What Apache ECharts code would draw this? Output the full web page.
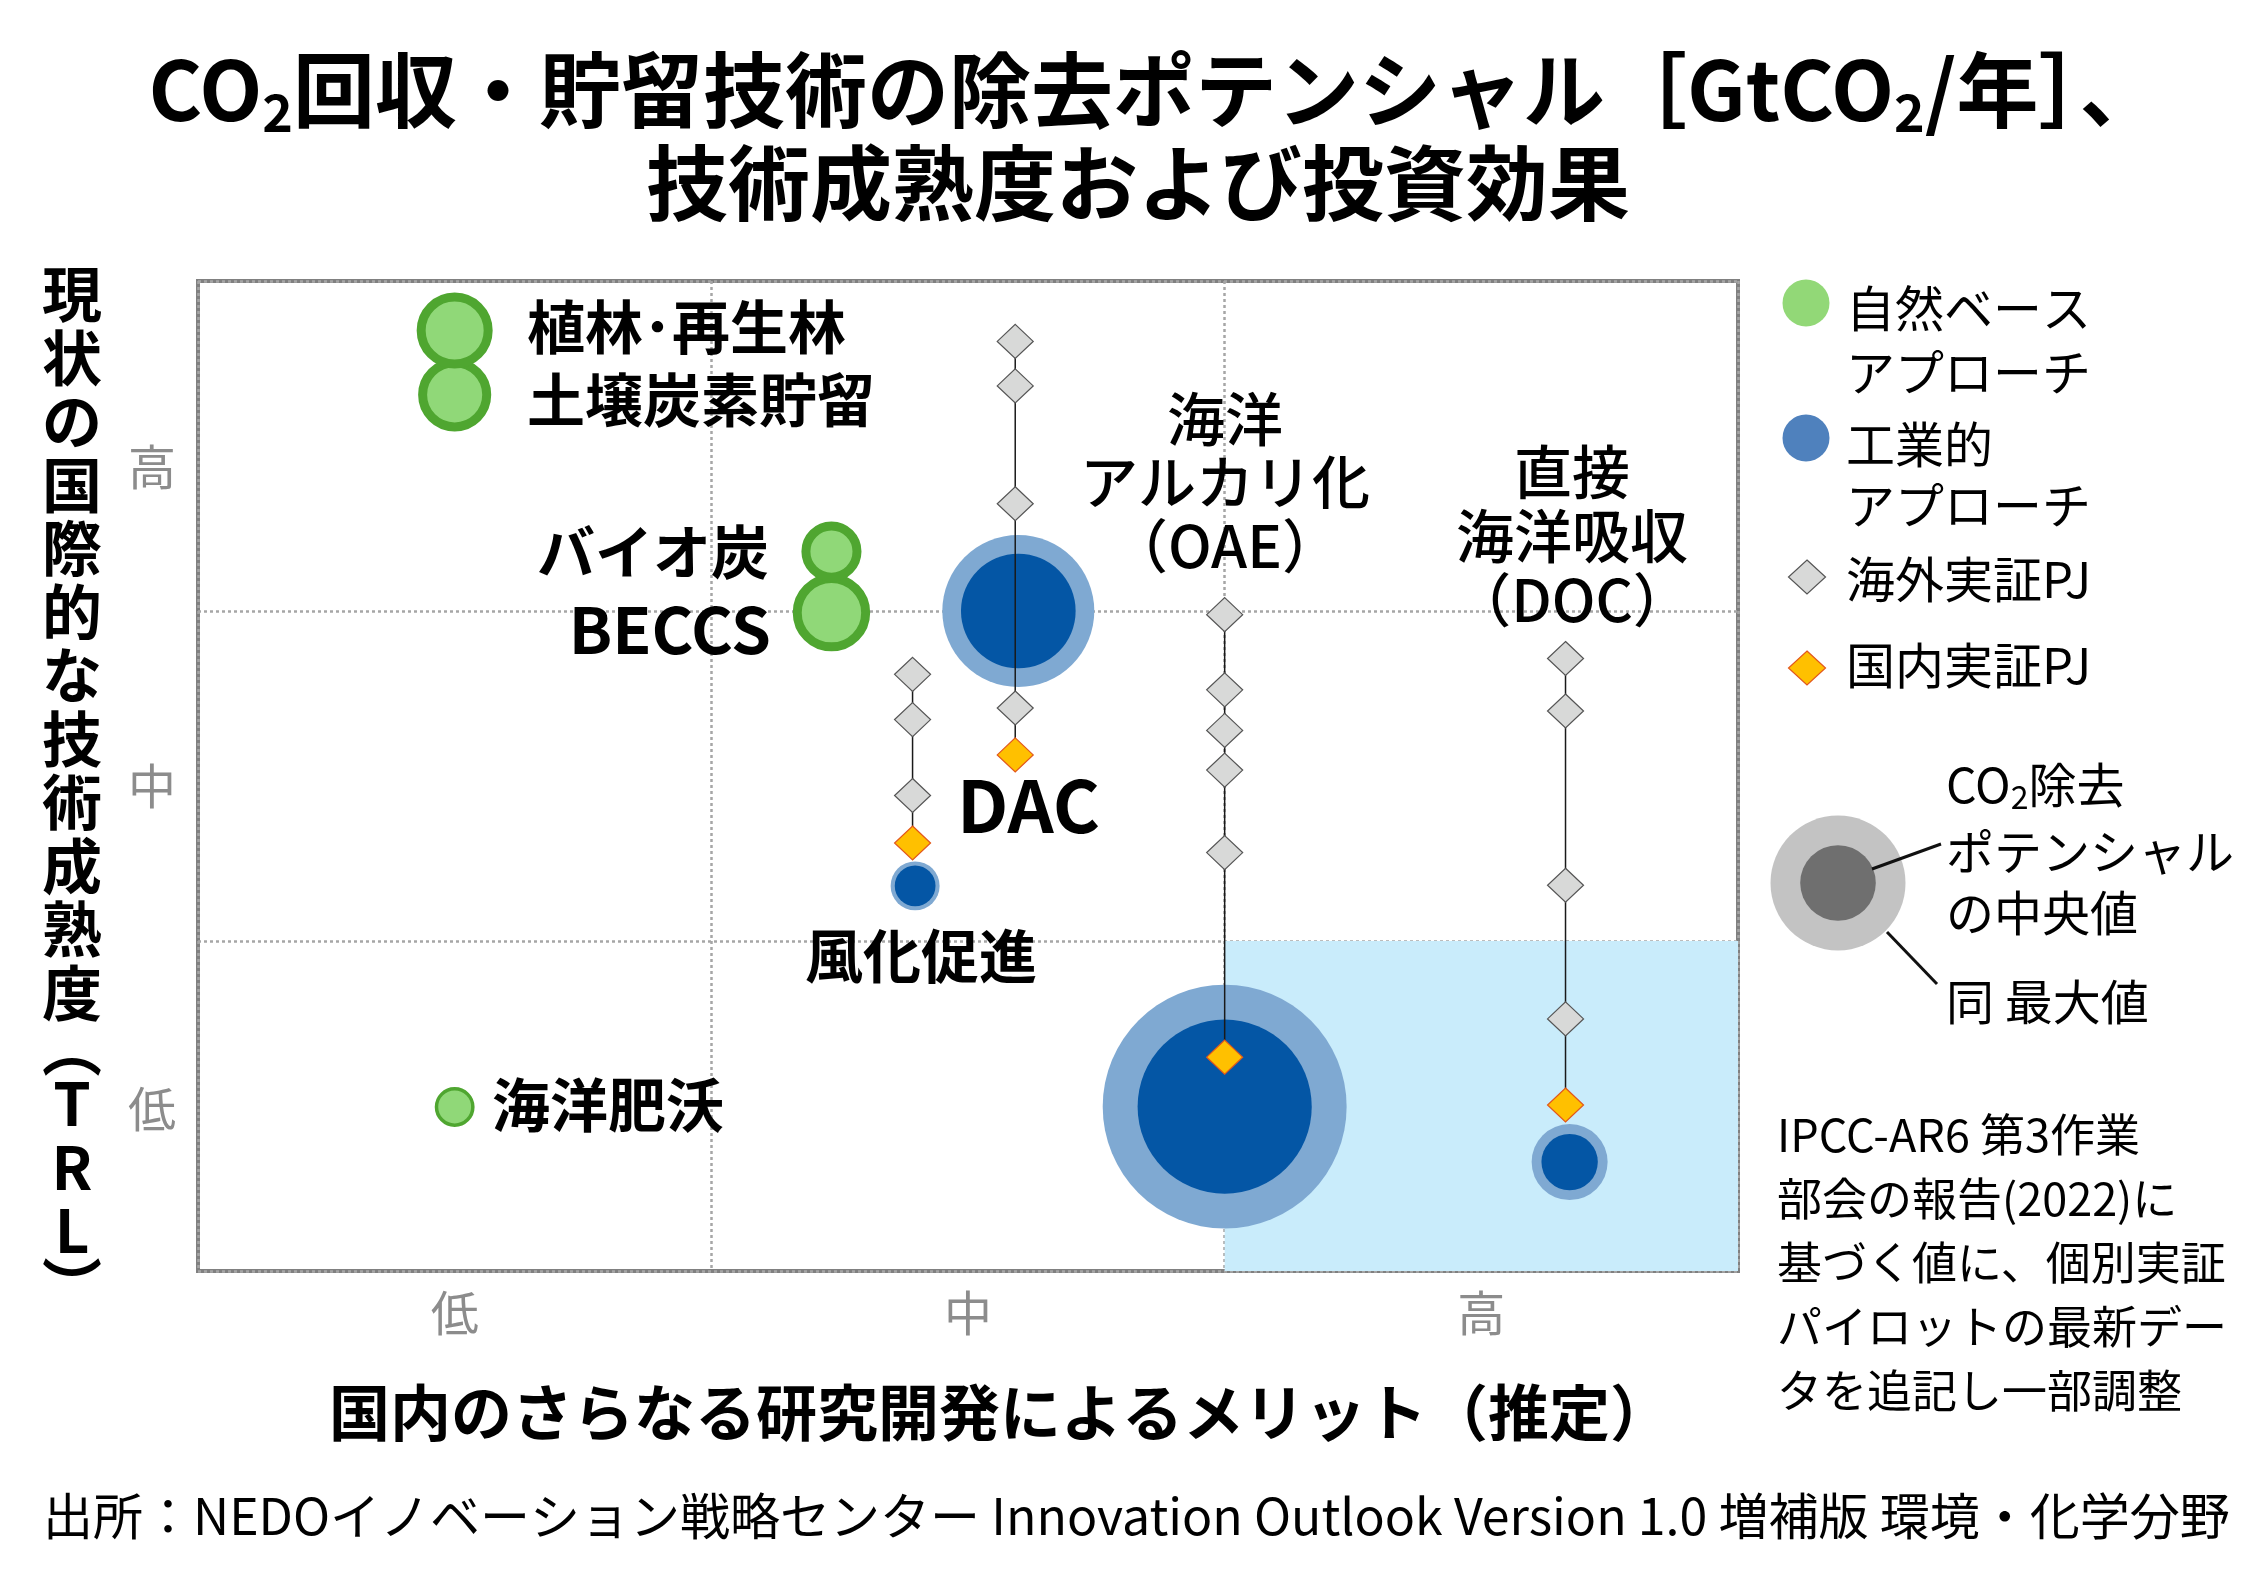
<!DOCTYPE html>
<html>
<head>
<meta charset="utf-8">
<script src="https://cdn.jsdelivr.net/npm/echarts@6/dist/echarts.min.js"></script>
<style>
  html, body { margin: 0; padding: 0; background: #fff; }
  #chart { width: 2260px; height: 1579px; }
</style>
</head>
<body>
<div id="chart"></div>
<script>
// 軸の目盛り
var xTicks = ['低', '中', '高'];
var yTicks = ['低', '中', '高'];

// 自然ベースアプローチ (x: 国内メリット, y: TRL, 除去ポテンシャル)
var natureNames     = ['土壌炭素貯留', '植林・再生林', 'BECCS', 'バイオ炭', '海洋肥沃'];
var natureX         = [0.5, 0.5, 1.234, 1.234, 0.5];
var natureY         = [2.655, 2.85, 1.995, 2.18, 0.497];
var naturePotential = [3.7, 4.0, 4.15, 2.5, 1.1];

// 工業的アプローチ (中央値 / 最大値)
var industryNames  = ['DAC', '風化促進', 'OAE', 'DOC'];
var industryX      = [1.598, 1.397, 2.0, 2.672];
var industryY      = [2.0, 1.167, 0.498, 0.33];
var industryMedian = [9.1, 1.15, 21.0, 2.2];
var industryMax    = [16.0, 1.66, 41.2, 4.0];

// 実証PJ
var pjX       = [1.592, 1.392, 2.0, 2.664];
var overseasY = [
  [2.817, 2.682, 2.325, 1.706],
  [1.808, 1.671, 1.441],
  [1.989, 1.761, 1.638, 1.518, 1.268],
  [1.856, 1.697, 1.169, 0.764]
];
var domesticY = [1.564, 1.297, 0.648, 0.503];

var FONT = "'Noto Sans CJK JP', sans-serif";

function radius(v) { return 19 * Math.sqrt(v); }

var chart = echarts.init(document.getElementById('chart'));

// 系列データ
var natureData = natureX.map(function (x, i) {
  var bw = naturePotential[i] < 2 ? 3.5 : 9;
  return {
    name: natureNames[i],
    value: [x, natureY[i], naturePotential[i]],
    symbolSize: 2 * radius(naturePotential[i]) - bw,
    itemStyle: { borderWidth: bw }
  };
});
var maxData = industryX.map(function (x, i) {
  return { name: industryNames[i], value: [x, industryY[i], industryMax[i]] };
});
var medData = industryX.map(function (x, i) {
  return { name: industryNames[i], value: [x, industryY[i], industryMedian[i]] };
});
var overseasData = [], domesticData = [];
pjX.forEach(function (x, i) {
  overseasY[i].forEach(function (y) { overseasData.push([x, y]); });
  domesticData.push([x, domesticY[i]]);
});

var stems = pjX.map(function (x, i) {
  var ys = overseasY[i].concat([domesticY[i]]);
  return {
    type: 'line',
    silent: true,
    symbol: 'none',
    z: 3,
    lineStyle: { color: '#1a1a1a', width: 1.5 },
    data: [[x, Math.max.apply(null, ys)], [x, Math.min.apply(null, ys)]]
  };
});

function txt(x, y, text, size, opt) {
  var st = {
    text: text, fill: '#000', fontSize: size, fontFamily: FONT, fontWeight: 'normal',
    align: 'left', verticalAlign: 'middle'
  };
  for (var k in (opt || {})) st[k] = opt[k];
  return { type: 'text', x: x, y: y, z: 100, style: st };
}

function diamond(cx, cy, w, h, fill, stroke) {
  return {
    type: 'polygon', z: 100,
    shape: { points: [[cx, cy - h / 2], [cx + w / 2, cy], [cx, cy + h / 2], [cx - w / 2, cy]] },
    style: { fill: fill, stroke: stroke, lineWidth: 1.2 }
  };
}

var vertName = ['現','状','の','国','際','的','な','技','術','成','熟','度','︵','T','R','L','︶'];
var vertText = vertName.map(function (c) {
  return (c === '︵' || c === '︶') ? '{p|' + c + '}' : '{c|' + c + '}';
}).join('\n');

var titleRich = {
  a: { fontSize: 82, fontWeight: 'bold', fontFamily: FONT, lineHeight: 96 },
  s: { fontSize: 52, fontWeight: 'bold', fontFamily: FONT, lineHeight: 52, verticalAlign: 'bottom' }
};

// 縦軸目盛りの位置調整
var yTickPad = { '高': 42, '中': 20, '低': 6 };

var option = {
  backgroundColor: '#fff',
  animation: false,
  grid: {
    left: 198, right: 522, top: 281, bottom: 308,
    show: true, borderColor: '#808080', borderWidth: 4
  },
  xAxis: [
    {
      type: 'value', min: 0, max: 3, interval: 1,
      axisLine: { show: false }, axisTick: { show: false }, axisLabel: { show: false },
      splitLine: { show: true, lineStyle: { type: [3, 3], color: '#a6a6a6', width: 2.5 } }
    },
    {
      type: 'category', data: xTicks, position: 'bottom', boundaryGap: true,
      axisLine: { show: false }, axisTick: { show: false }, splitLine: { show: false },
      axisLabel: { color: '#8c8c8c', fontSize: 48, fontFamily: FONT, margin: 18 }
    }
  ],
  yAxis: [
    {
      type: 'value', min: 0, max: 3, interval: 1,
      axisLine: { show: false }, axisTick: { show: false }, axisLabel: { show: false },
      splitLine: { show: true, lineStyle: { type: [3, 3], color: '#a6a6a6', width: 2.5 } }
    },
    {
      type: 'category', data: yTicks, position: 'left', boundaryGap: true,
      axisLine: { show: false }, axisTick: { show: false }, splitLine: { show: false },
      axisLabel: {
        color: '#8c8c8c', fontSize: 48, fontFamily: FONT, margin: 22,
        formatter: function (v) { return '{' + (v === '高' ? 'h' : v === '中' ? 'm' : 'l') + '|' + v + '}'; },
        rich: {
          h: { color: '#8c8c8c', fontSize: 48, fontFamily: FONT, padding: [yTickPad['高'], 0, 0, 0] },
          m: { color: '#8c8c8c', fontSize: 48, fontFamily: FONT, padding: [yTickPad['中'], 0, 0, 0] },
          l: { color: '#8c8c8c', fontSize: 48, fontFamily: FONT, padding: [yTickPad['低'], 0, 0, 0] }
        }
      }
    }
  ],
  series: [
    {
      type: 'scatter', data: [], z: -1, silent: true,
      markArea: {
        silent: true,
        itemStyle: { color: '#c9ecfb', opacity: 1 },
        data: [[{ coord: [2, 0] }, { coord: [3, 1] }]]
      }
    },
    {
      name: '自然ベースアプローチ', type: 'scatter', z: 2,
      itemStyle: { color: '#90d878', borderColor: '#4fa630', opacity: 1 },
      data: natureData
    },
    {
      name: '工業的アプローチ(最大値)', type: 'scatter', z: 2,
      symbolSize: function (v) { return 2 * radius(v[2]); },
      itemStyle: { color: '#7fa9d2', opacity: 1 },
      data: maxData
    },
    {
      name: '工業的アプローチ', type: 'scatter', z: 2,
      symbolSize: function (v) { return 2 * radius(v[2]); },
      itemStyle: { color: '#0456a5', opacity: 1 },
      data: medData
    }
  ].concat(stems).concat([
    {
      name: '海外実証PJ', type: 'scatter', symbol: 'diamond', symbolSize: [36, 34], z: 4,
      itemStyle: { color: '#d8d9d8', borderColor: '#555', borderWidth: 1.2, opacity: 1 },
      data: overseasData
    },
    {
      name: '国内実証PJ', type: 'scatter', symbol: 'diamond', symbolSize: [36, 34], z: 4,
      itemStyle: { color: '#ffc000', borderColor: '#e2571c', borderWidth: 1.2, opacity: 1 },
      data: domesticData
    }
  ]),
  graphic: [
    // タイトル
    txt(1155, 90, '{a|CO}{s|2}{a|回収・貯留技術の除去ポテンシャル［GtCO}{s|2}{a|/年］、}', 82,
      { align: 'center', rich: titleRich }),
    txt(1138, 183, '技術成熟度および投資効果', 82, { align: 'center', fontWeight: 'bold' }),
    // 軸名
    txt(72, 786, vertText, 60, {
      align: 'center',
      rich: {
        c: { fontSize: 60, fontWeight: 'bold', fontFamily: FONT, lineHeight: 63.5, align: 'center' },
        p: { fontSize: 60, fontWeight: 'bold', fontFamily: FONT, lineHeight: 47, align: 'center' }
      }
    }),
    txt(1000, 1413, '国内のさらなる研究開発によるメリット（推定）', 61, { align: 'center', fontWeight: 'bold' }),
    // ラベル
    txt(527, 327, '植林･再生林', 58, { fontWeight: 'bold' }),
    txt(527, 400, '土壌炭素貯留', 58, { fontWeight: 'bold' }),
    txt(769, 552, 'バイオ炭', 58, { align: 'right', fontWeight: 'bold' }),
    txt(771, 630, 'BECCS', 64, { align: 'right', fontWeight: 'bold' }),
    txt(957, 806, 'DAC', 72, { fontWeight: 'bold' }),
    txt(921, 956, '風化促進', 58, { align: 'center', fontWeight: 'bold' }),
    txt(1225, 482, '海洋\nアルカリ化\n（OAE）', 58, { align: 'center', fontWeight: 500, lineHeight: 63.5 }),
    txt(1572, 536, '直接\n海洋吸収\n（DOC）', 58, { align: 'center', fontWeight: 500, lineHeight: 64 }),
    txt(492, 1105, '海洋肥沃', 58, { fontWeight: 'bold' }),
    // 凡例
    { type: 'circle', z: 100, shape: { cx: 1806, cy: 303, r: 23.5 }, style: { fill: '#92d877' } },
    txt(1846, 308, '自然ベース', 49),
    txt(1846, 372, 'アプローチ', 49),
    { type: 'circle', z: 100, shape: { cx: 1806, cy: 438, r: 23.5 }, style: { fill: '#4f81bd' } },
    txt(1846, 444, '工業的', 49),
    txt(1846, 505, 'アプローチ', 49),
    diamond(1807, 577, 37, 34, '#d8d9d8', '#555'),
    txt(1846, 579, '海外実証PJ', 49),
    diamond(1807, 668, 37, 34, '#ffc000', '#e2571c'),
    txt(1846, 665, '国内実証PJ', 49),
    // ポテンシャル凡例
    { type: 'circle', z: 100, shape: { cx: 1838, cy: 883, r: 67.5 }, style: { fill: '#c3c3c3' } },
    { type: 'circle', z: 100, shape: { cx: 1838, cy: 883, r: 37.8 }, style: { fill: '#6f6f6f' } },
    { type: 'line', z: 101, shape: { x1: 1872, y1: 869, x2: 1941, y2: 844 }, style: { stroke: '#111', lineWidth: 3 } },
    { type: 'line', z: 101, shape: { x1: 1887, y1: 932, x2: 1937, y2: 984 }, style: { stroke: '#111', lineWidth: 3 } },
    txt(1946, 785, '{a|CO}{s|2}{a|除去}', 48, {
      rich: {
        a: { fontSize: 48, fontFamily: FONT, lineHeight: 56 },
        s: { fontSize: 32, fontFamily: FONT, lineHeight: 32, verticalAlign: 'bottom' }
      }
    }),
    txt(1946, 852, 'ポテンシャル', 48),
    txt(1946, 913, 'の中央値', 48),
    txt(1946, 1002, '同 最大値', 48),
    // 注記
    txt(1777, 1135, 'IPCC-AR6 第3作業', 45),
    txt(1777, 1199, '部会の報告(2022)に', 45),
    txt(1777, 1263, '基づく値に、個別実証', 45),
    txt(1777, 1327, 'パイロットの最新デー', 45),
    txt(1777, 1391, 'タを追記し一部調整', 45),
    // 出所
    txt(43, 1516, '出所：NEDOイノベーション戦略センター Innovation Outlook Version 1.0 増補版 環境・化学分野', 50)
  ]
};

chart.setOption(option);
</script>
</body>
</html>
